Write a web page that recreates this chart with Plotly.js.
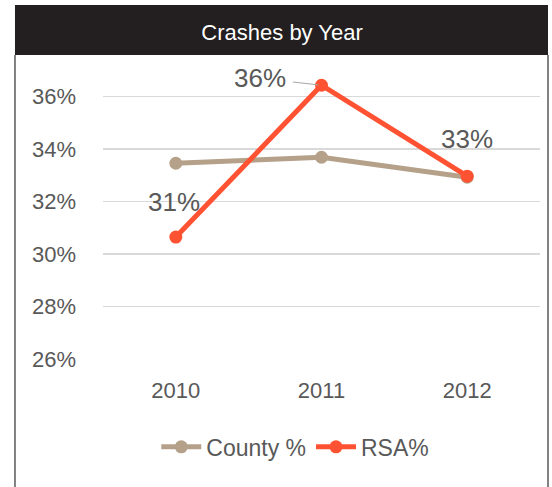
<!DOCTYPE html>
<html>
<head>
<meta charset="utf-8">
<script src="https://cdn.plot.ly/plotly-3.0.1.min.js"></script>
<style>html,body{margin:0;padding:0;background:#fff;}#chart{width:552px;height:487px;}</style>
</head>
<body>
<div id="chart"></div>
<script>
var years = ['2010', '2011', '2012'];
var countyPct = [0.3345, 0.3368, 0.3292];
var rsaPct = [0.3064, 0.3642, 0.3296];
var rsaLabels = ['31%', '36%', '33%'];
var yTicks = [0.26, 0.28, 0.30, 0.32, 0.34, 0.36];
var yTickText = ['26%', '28%', '30%', '32%', '34%', '36%'];

var FONT = '"Liberation Sans", Arial, sans-serif';
var TXT = '#595959';

var traces = [
  {x: years, y: countyPct, name: 'County %', type: 'scatter', mode: 'lines+markers',
   line: {color: '#b5a18a', width: 5}, marker: {color: '#b5a18a', size: 13}},
  {x: years, y: rsaPct, name: 'RSA%', type: 'scatter', mode: 'lines+markers',
   line: {color: '#ff5233', width: 5}, marker: {color: '#ff5233', size: 13}}
];

var annOffsets = [[-2, -35], [-62, -7], [0, -37]];
var annotations = rsaLabels.map(function (t, i) {
  var a = {x: i, y: rsaPct[i], text: t, xref: 'x', yref: 'y',
    font: {family: FONT, size: 26, color: TXT},
    showarrow: true, ax: annOffsets[i][0], ay: annOffsets[i][1],
    arrowcolor: 'rgba(0,0,0,0)', arrowwidth: 1, arrowhead: 0};
  if (i === 1) { a.arrowcolor = '#a6a6a6'; a.standoff = 3; a.startstandoff = 6; }
  return a;
});

var layout = {
  width: 552, height: 487,
  margin: {l: 103, r: 12, t: 70, b: 128},
  paper_bgcolor: '#ffffff', plot_bgcolor: '#ffffff',
  font: {family: FONT, color: TXT},
  title: {text: 'Crashes by Year', font: {family: FONT, size: 22, color: '#ffffff'},
    x: 0.511, xanchor: 'center', y: 0.934, yanchor: 'middle', yref: 'container'},
  xaxis: {type: 'category', range: [-0.5, 2.5], showgrid: false, zeroline: false,
    showline: false, ticks: '', tickfont: {family: FONT, size: 22, color: TXT},
    ticklabelstandoff: 16, fixedrange: true},
  yaxis: {range: [0.26, 0.37], tickvals: yTicks, ticktext: yTickText,
    showgrid: true, gridcolor: '#d9d9d9', gridwidth: 1.5, zeroline: false,
    showline: false, ticks: '', tickfont: {family: FONT, size: 22, color: TXT},
    ticklabelstandoff: 26, fixedrange: true},
  legend: {orientation: 'h', x: 0.44, xanchor: 'center', y: -0.304, yanchor: 'middle',
    font: {family: FONT, size: 23, color: TXT}, itemwidth: 40},
  annotations: annotations,
  shapes: [
    {type: 'rect', xref: 'paper', yref: 'paper', x0: -0.2014, x1: 1.0183, y0: 1.0519, y1: 1.2249,
     fillcolor: '#231f20', line: {width: 0}, layer: 'below'},
    {type: 'line', xref: 'paper', yref: 'paper', x0: -0.2014, x1: -0.2014, y0: 1.0519, y1: -0.45,
     line: {color: '#595959', width: 1.5}},
    {type: 'line', xref: 'paper', yref: 'paper', x0: 1.0183, x1: 1.0183, y0: 1.0519, y1: -0.45,
     line: {color: '#595959', width: 1.5}}
  ],
  showlegend: true
};

Plotly.newPlot('chart', traces, layout, {displayModeBar: false, staticPlot: true});
</script>
</body>
</html>
